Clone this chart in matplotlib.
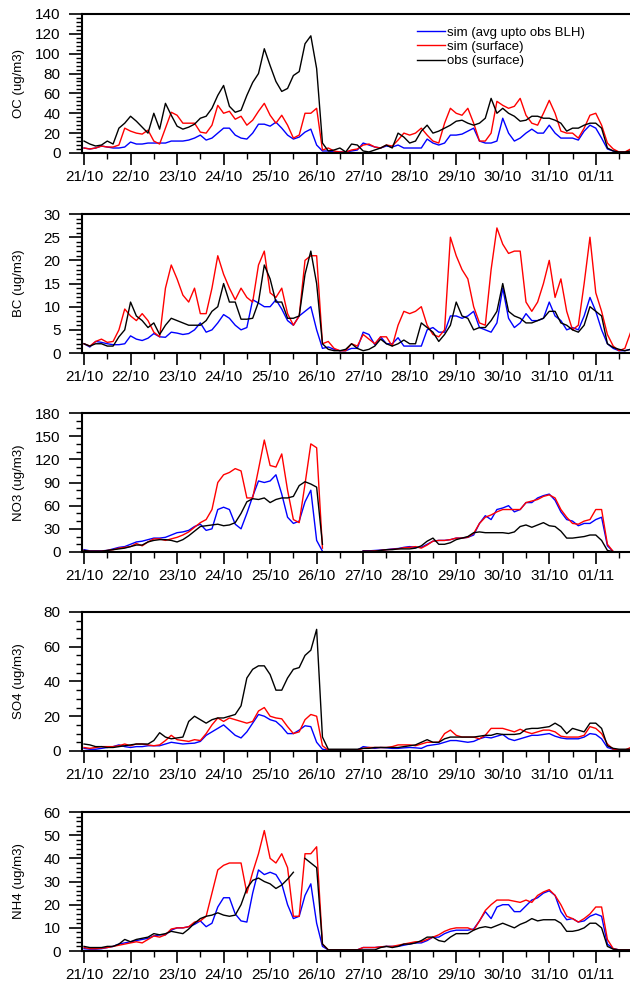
import matplotlib
matplotlib.use("Agg")
import matplotlib.pyplot as plt
import numpy as np
from matplotlib.ticker import MultipleLocator

plt.rcParams['font.family'] = ['Liberation Sans', 'DejaVu Sans']

nan = np.nan

# time axis: days since 21/10 00:00, 3-hourly
time_days = np.arange(95) / 8.0
day_labels = ['21/10', '22/10', '23/10', '24/10', '25/10', '26/10',
              '27/10', '28/10', '29/10', '30/10', '31/10', '01/11']

# ---------------- OC ----------------
oc_blh = [5, 4, 5, 7, 6, 5, 5, 6,
          11, 9, 9, 10, 10, 10, 10, 12,
          12, 12, 13, 15, 18, 13, 15, 20,
          25, 25, 18, 15, 14, 20, 29, 29,
          27, 31, 25, 18, 14, 16, 21, 24,
          8, 2, 2, 1, 1, 1, 2, 3,
          10, 8, 6, 5, 7, 6, 8, 5,
          5, 5, 5, 14, 10, 8, 10, 18,
          18, 19, 22, 25, 12, 10, 10, 12,
          35, 20, 12, 15, 20, 24, 20, 20,
          28, 20, 15, 15, 15, 13, 22, 28,
          25, 15, 4, 2, 1, 1, 1]
oc_sfc = [5, 4, 5, 7, 6, 6, 8, 25,
          22, 20, 19, 23, 12, 9, 25, 41,
          38, 30, 30, 30, 21, 20, 28, 48,
          40, 42, 34, 37, 28, 33, 42, 50,
          38, 30, 38, 28, 15, 18, 40, 40,
          45, 3, 5, 2, 1, 1, 3, 4,
          8, 9, 6, 5, 8, 7, 13, 20,
          18, 20, 25, 18, 12, 10, 30, 45,
          40, 38, 45, 30, 12, 12, 20, 52,
          48, 45, 47, 55, 38, 30, 28, 40,
          53, 40, 22, 20, 20, 15, 25, 38,
          40, 28, 10, 4, 1, 1, 4]
oc_obs = [12, 9, 7, 8, 12, 9, 25, 30,
          37, 32, 26, 20, 40, 24, 50, 38,
          27, 24, 26, 29, 35, 37, 45, 58,
          68, 47, 41, 43, 58, 71, 80, 105,
          88, 72, 62, 65, 78, 82, 110, 118,
          85, 10, 2, 3, 5, 1, 9, 8,
          2, 1, 3, 5, 8, 5, 20, 16,
          10, 12, 22, 28, 20, 22, 25, 28,
          32, 33, 30, 28, 30, 35, 55, 40,
          45, 40, 37, 32, 33, 37, 37, 35,
          35, 33, 30, 22, 25, 25, 28, 30,
          30, 25, 5, 2, 1, 1, 2]

# ---------------- BC ----------------
bc_blh = [2, 1.3, 2.5, 2.3, 2, 1.8, 1.8, 2,
          3.7, 3, 2.7, 3.2, 4.2, 3.5, 3.4, 4.5,
          4.3, 4, 4.2, 5, 6.5, 4.5, 5, 6.5,
          8.3, 7.5, 6, 5, 5.5, 11.5, 10.8, 10,
          10, 11.5, 9.5, 7, 6, 8, 9, 10,
          5, 1, 1.3, 0.8, 0.5, 0.5, 1, 1,
          4.5, 4, 1.8, 3.5, 2, 2, 3.3, 1.5,
          1.5, 1.5, 1.5, 5, 5.5, 4.5, 4.5, 8,
          8, 7.5, 8, 9, 5.5, 5, 4.5, 6.5,
          14, 7.5, 5.5, 6.5, 8.5, 7, 7, 7.5,
          11, 8, 7, 5, 5.5, 5, 8, 12,
          9, 5, 2, 1, 0.5, 0.5, 0.8]
bc_sfc = [2, 1.5, 2.5, 3, 2.3, 2.5, 5, 9.5,
          8, 7, 8.5, 7, 4.5, 3.5, 14, 19,
          16, 12.5, 11, 14, 8.5, 8.5, 14, 21,
          17, 14, 11.5, 14, 12, 11, 19, 22,
          13, 12, 14, 8.5, 6, 8, 20, 21,
          21, 2, 2.5, 1, 0.5, 0.5, 2, 1.5,
          4, 3, 2, 3.5, 3.5, 1.5, 6, 9,
          8.5, 9, 10, 6, 4, 3.5, 5, 25,
          21, 18, 16, 10, 6.5, 6, 18, 27,
          23.5, 21.5, 22, 22, 11, 9, 11, 15,
          20, 12, 16, 9, 5, 6, 15, 25,
          13, 9, 4, 1.5, 0.5, 1, 4.5]
bc_obs = [2, 1.5, 2, 2, 1.5, 1.5, 3.5, 5,
          11, 8, 7, 5.5, 6.5, 4, 6, 7.5,
          7, 6.5, 6, 6, 6, 7, 9, 10,
          15, 11, 11, 7.3, 7.3, 7.5, 11, 19,
          16, 11, 11, 7.5, 7.5, 8, 17, 22,
          15, 2, 0.8, 0.5, 0.5, 0.8, 2, 1,
          0.5, 0.8, 1.5, 3, 2, 1.5, 2, 2.8,
          2, 2, 6.5, 5.5, 4.5, 2.5, 4, 6,
          11, 8, 7.5, 5, 5.5, 5.5, 7, 9,
          15, 9, 8, 7.5, 6.5, 6.5, 7, 7.5,
          9, 9, 6.5, 6, 5, 4.5, 6, 10,
          9, 8, 2, 1.2, 0.8, 0.5, 0.8]

# ---------------- NO3 ----------------
no3_blh = [3, 1.5, 1.5, 1.5, 2, 4, 6, 7,
           10, 13, 14, 16, 18, 18, 19, 22,
           25, 26, 28, 33, 36, 28, 30, 55,
           58, 55, 36, 30, 50, 72, 92, 90,
           92, 100, 75, 45, 37, 40, 65, 80,
           15, 1, nan, nan, nan, nan, nan, nan,
           1.5, 1.5, 2, 2.5, 3, 4, 4.5, 6,
           7, 6, 6, 10, 14, 15, 15, 16,
           18, 18, 19, 22, 37, 47, 42, 55,
           57, 60, 52, 55, 64, 64, 70, 73,
           75, 67, 52, 42, 40, 34, 37, 37,
           42, 45, 8, 0.5, nan, nan, nan]
no3_sfc = [2, 1, 1, 1, 2, 3, 5, 6,
           7, 11, 8, 13, 17, 17, 15, 17,
           19, 22, 26, 32, 38, 42, 55, 90,
           100, 103, 108, 105, 70, 70, 107, 145,
           112, 110, 127, 80, 42, 38, 88, 140,
           135, 5, nan, nan, nan, nan, nan, nan,
           1, 1, 1.5, 2, 3, 3.5, 4, 5.5,
           6, 7, 5, 9, 14, 15, 15, 16,
           18, 18, 19, 24, 37, 45, 48, 52,
           55, 55, 55, 55, 64, 66, 68, 72,
           74, 70, 55, 45, 37, 36, 40, 42,
           55, 55, 10, 0.5, nan, nan, nan]
no3_obs = [2, 1, 1, 1, 2, 3, 4, 5,
           7, 9, 9, 13, 15, 16, 16, 15,
           13, 16, 21, 27, 33, 34, 35, 36,
           34, 35, 38, 50, 65, 69, 68, 70,
           64, 68, 70, 70, 72, 86, 91, 88,
           84, 10, nan, nan, nan, nan, nan, nan,
           1, 1, 1, 2, 3, 3, 4, 4,
           4, 5, 8, 14, 18, 10, 10, 12,
           16, 18, 20, 25, 26, 25, 25, 25,
           25, 24, 26, 33, 35, 32, 35, 38,
           34, 33, 27, 18, 18, 19, 20, 22,
           22, 15, 2, 0.5, nan, nan, nan]

# ---------------- SO4 ----------------
so4_blh = [1.5, 1, 1, 1.5, 2, 2.5, 3.5, 2.5,
           2, 2.5, 2.5, 3, 3, 3, 4, 5,
           4.5, 4, 4.3, 4.5, 5.5, 9, 11, 13,
           15, 12, 9, 7.5, 11, 16, 21, 20,
           18, 17, 14, 10, 10, 12, 14.5, 14,
           5, 1, 0.5, 0.5, 0.5, 0.5, 0.5, 0.5,
           2.5, 2, 1.5, 2, 1.8, 1.5, 1.5, 1.8,
           2, 1.8, 1.5, 3, 3.5, 4, 5, 6,
           6, 5.5, 5, 5.5, 7, 8, 7.5, 8.5,
           9.5, 7, 6, 7, 8, 9, 9, 9.5,
           10, 8.5, 7.5, 7, 7, 7, 8, 10,
           9.5, 7, 2, 1, 0.5, 0.5, 0.5]
so4_sfc = [2, 1.5, 2, 2.5, 2.5, 2.5, 3, 4,
           3, 4, 4, 3.5, 3, 3.5, 6, 9,
           6.5, 6, 5.5, 6.5, 6, 10, 15, 19,
           17, 19, 18, 17, 16, 17, 23, 25,
           20, 19, 18.5, 14, 10, 11, 18, 21,
           20, 3, 0.5, 0.5, 0.5, 0.5, 0.5, 0.5,
           1.5, 2, 2, 2, 2, 2.5, 3.5, 3.5,
           3.5, 3, 4, 5, 5, 5, 10, 12,
           9, 8, 8, 8, 7, 9, 13, 13,
           13, 12, 11, 12.5, 11, 10, 11, 12,
           12, 11, 8.5, 8, 8, 8, 9, 14,
           13, 10, 4, 1, 0.5, 0.5, 2]
so4_obs = [4, 3.5, 2.5, 2.5, 2, 2, 2.5, 3,
           3.5, 4, 4, 4, 6, 10.5, 8, 7,
           7.5, 8, 17, 20, 18, 16, 18, 19,
           19, 20, 21, 26, 42, 47, 49, 49,
           44, 35, 35, 42, 47, 48, 55, 58,
           70, 8, 1, 1, 1, 1, 1, 1,
           1.5, 1.5, 2, 2, 2, 2, 2, 2.5,
           3, 3.5, 5, 6.5, 5, 5, 7, 8,
           8, 8, 8, 8, 8.5, 9, 9, 10,
           9.5, 9.5, 9.5, 10, 12.5, 13, 13, 13.5,
           14, 16, 14, 10, 13, 12, 11, 16,
           16, 13, 3, 1.5, 1, 1, 1]

# ---------------- NH4 ----------------
nh4_blh = [1, 0.8, 0.8, 1, 1.5, 2, 3, 3.5,
           4, 4.5, 5, 5.5, 6.5, 7, 7, 9,
           10, 10, 10.5, 11.5, 13, 10.5, 12, 19,
           23, 23, 16, 13, 12.5, 25, 35, 33,
           34, 33, 29, 20, 14, 15, 24, 29,
           12, 2, 0.5, 0.5, 0.5, 0.5, 0.5, 0.5,
           1.5, 1.5, 1.5, 1.8, 2, 2, 2, 2.5,
           3, 3.5, 3.5, 4.5, 6, 6, 7.5, 8.5,
           9, 9, 9, 9.5, 13, 17, 14, 19,
           20, 20, 17, 17, 19.5, 22, 23, 25,
           26, 24, 17, 13.5, 14, 12.5, 13, 15,
           16, 15, 3, 1, 0.5, 0.5, 0.5]
nh4_sfc = [1.5, 1, 1, 1.2, 1.5, 2, 2.5, 3,
           3.5, 4, 3.5, 5, 6.5, 6, 7, 9.5,
           10, 10, 10.5, 12.5, 13, 15, 25, 35,
           37, 38, 38, 38, 25, 34, 42, 52,
           40, 38, 42, 36, 15, 15, 42, 42,
           45, 3, 0.5, 0.5, 0.5, 0.5, 0.5, 0.5,
           1.5, 1.5, 1.5, 1.8, 2, 2, 2.5, 3,
           3.5, 4, 4, 5, 6, 7, 8.5, 9.5,
           10, 10, 10, 9, 13, 17.5, 20, 22,
           22, 22, 21.5, 21, 22, 21, 24, 25.5,
           26.5, 24, 20, 15, 14, 12.5, 14, 16,
           19, 19, 5, 1, 0.5, 0.5, 0.5]
nh4_obs = [2, 1.5, 1.5, 1.5, 2, 2, 3, 5,
           4, 5, 5.5, 6, 7.5, 7, 7.5, 8.5,
           8, 7.5, 9.5, 12, 14, 15, 15.5, 16.5,
           15.5, 15, 15.5, 20, 27, 30.5, 31.5, 30,
           29, 27, 28.5, 31, 34, nan, 40, 38,
           36, 3, 0.5, 0.5, 0.5, 0.5, 0.5, 0.5,
           0.5, 0.5, 0.5, 1.5, 2, 1.5, 2, 3,
           3, 3.5, 4.5, 6, 6, 4.5, 4, 6,
           7.5, 7.5, 7.5, 9, 10, 10.5, 10, 11,
           12, 11, 10, 11.5, 12.5, 14, 13, 13.5,
           13.5, 13.5, 12, 8.5, 8.5, 9, 10, 12,
           12, 10, 2, 0.8, 0.5, 0.5, 0.5]

species = ['OC', 'BC', 'NO3', 'SO4', 'NH4']
series_blh = [oc_blh, bc_blh, no3_blh, so4_blh, nh4_blh]
series_sfc = [oc_sfc, bc_sfc, no3_sfc, so4_sfc, nh4_sfc]
series_obs = [oc_obs, bc_obs, no3_obs, so4_obs, nh4_obs]
y_max = [140, 30, 180, 80, 60]
y_major = [20, 5, 30, 20, 10]
y_minor = [4, 1, 10, 5, 2]

legend_labels = ['sim (avg upto obs BLH)', 'sim (surface)', 'obs (surface)']

fig = plt.figure(figsize=(6.3, 9.85), dpi=100)

# panel bottoms in figure fraction (top to bottom)
bottoms = [0.8447, 0.6416, 0.4396, 0.2376, 0.0345]

for i, name in enumerate(species):
    ax = fig.add_axes([0.1302, bottoms[i], 0.875, 0.1411])

    ax.plot(time_days, series_blh[i], color='#0000ff', lw=1.0, label=legend_labels[0])
    ax.plot(time_days, series_sfc[i], color='#ff0000', lw=1.0, label=legend_labels[1])
    ax.plot(time_days, series_obs[i], color='black', lw=1.0, label=legend_labels[2])

    ax.set_xlim(-0.043, 11.806)
    ax.set_ylim(0, y_max[i])
    ax.set_xticks(range(len(day_labels)))
    ax.set_xticklabels(day_labels)
    ax.xaxis.set_minor_locator(MultipleLocator(0.5))
    ax.yaxis.set_major_locator(MultipleLocator(y_major[i]))
    ax.yaxis.set_minor_locator(MultipleLocator(y_minor[i]))

    ax.tick_params(axis='both', which='major', direction='out',
                   width=1.2, labelsize=11, top=False, right=False)
    ax.tick_params(axis='both', which='minor', direction='out', length=4.3,
                   width=1.0, top=False, right=False)
    ax.tick_params(axis='y', which='major', length=9.5, pad=6)
    ax.tick_params(axis='x', which='major', length=8.5, pad=3.5)

    for sp in ax.spines.values():
        sp.set_linewidth(1.5)

    ax.set_ylabel(f'{name} (ug/m3)', fontsize=9.5)
    ax.yaxis.set_label_coords(-0.104, 0.5)

    if i == 0:
        ax.legend(loc='upper left', bbox_to_anchor=(0.608, 0.91),
                  frameon=False, fontsize=9.5, handlelength=2.1,
                  handletextpad=0.15, labelspacing=0.15,
                  borderaxespad=0, borderpad=0)

fig.savefig('out.png', dpi=100)
